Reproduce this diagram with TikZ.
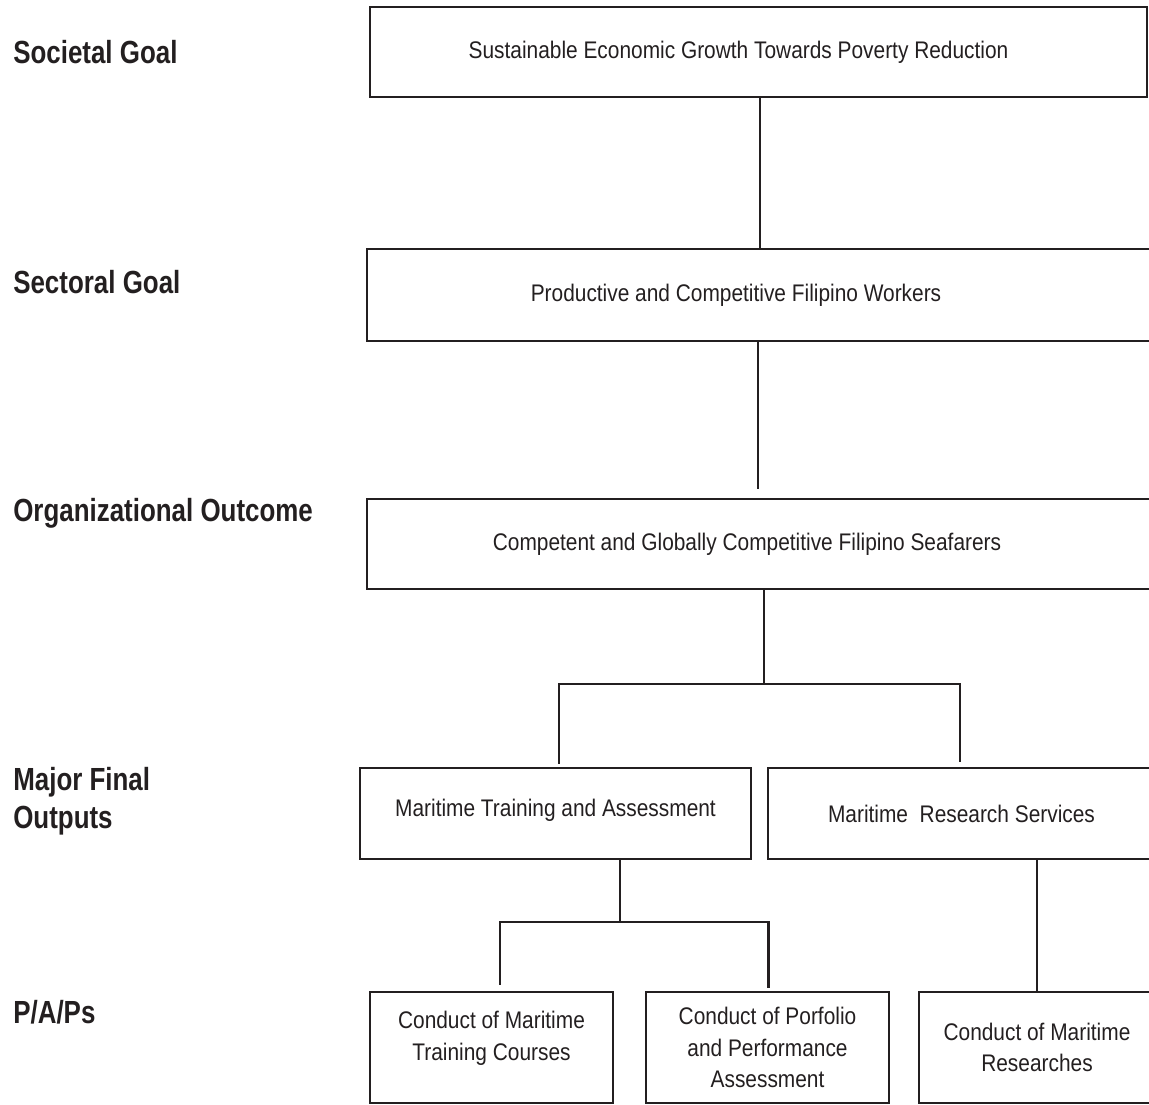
\documentclass[tikz,border=0pt]{standalone}
\usepackage{fontspec}
\setmainfont{Liberation Sans}
\newfontfamily\boxfont[FakeStretch=0.87]{Liberation Sans}
\newfontfamily\levelfont[FakeStretch=0.81]{Liberation Sans Bold}
\usepackage{tikz}
\definecolor{ink}{HTML}{231F20}
\begin{document}
\begin{tikzpicture}[x=1pt,y=-1pt,line width=2.6pt,draw=ink,text=ink]
\tikzstyle{every node}+=[inner sep=0pt]
\tikzstyle{level}=[anchor=west,align=left,font=\levelfont\fontsize{32}{38}\selectfont]
\tikzstyle{box}=[draw=ink,rectangle,align=center,font=\boxfont\fontsize{24}{31.5}\selectfont]
\tikzstyle{link}=[draw=ink,line width=2.4pt]
\useasboundingbox (0,0) rectangle (1149,1104);
\clip (0,0) rectangle (1149,1104);
\node [level] (lsoc) at (12,52) {Societal Goal};
\node [level] (lsec) at (12,282) {Sectoral Goal};
\node [level] (lorg) at (12,513) {Organizational Outcome};
\node [level] (lmfo) at (12,801) {Major Final\\Outputs};
\node [level] (lpap) at (12,1012) {P/A/Ps};
\node [box,minimum width=777pt,minimum height=90pt,label={[box,draw=none,xshift=-20pt]center:Sustainable Economic Growth Towards Poverty Reduction}] (soc) at (758.5,52) {};
\node [box,minimum width=788pt,minimum height=92pt,label={[box,draw=none,xshift=-25pt]center:Productive and Competitive Filipino Workers}] (sec) at (761,295) {};
\node [box,minimum width=788pt,minimum height=90pt,label={[box,draw=none,xshift=-14pt]center:Competent and Globally Competitive Filipino Seafarers}] (org) at (761,544) {};
\node [box,minimum width=391pt,minimum height=91pt,label={[box,draw=none,yshift=3pt]center:Maritime Training and Assessment}] (mfoa) at (555.5,813.5) {};
\node [box,minimum width=387pt,minimum height=91pt] (mfob) at (961.5,813.5) {Maritime \ Research Services};
\node [box,minimum width=243pt,minimum height=111pt,label={[box,draw=none,yshift=9pt]center:Conduct of Maritime\\Training Courses}] (pap1) at (491.5,1047.5) {};
\node [box,minimum width=243pt,minimum height=111pt] (pap2) at (767.5,1047.5) {Conduct of Porfolio\\and Performance\\Assessment};
\node [box,minimum width=236pt,minimum height=111pt] (pap3) at (1037,1047.5) {Conduct of Maritime\\Researches};
\coordinate (ja) at (764,684);
\coordinate (jb) at (620,922);
\draw [link] ([xshift=1.5pt]soc.south) -- ([xshift=1.5pt]soc.south |- sec.north);
\draw [link,shorten >=9pt] ([xshift=-3pt]sec.south) -- ([xshift=-3pt]sec.south |- org.north);
\draw [link] (org.south -| ja) -- (ja);
\draw [link,shorten <=3pt,shorten >=5pt] ([xshift=3.5pt]mfoa.north) |- (ja) -| ([xshift=-1.5pt]mfob.north);
\draw [link] (mfoa.south -| jb) -- (jb);
\draw [link,shorten <=6pt,shorten >=3pt] ([xshift=8.5pt]pap1.north) |- (jb) -| ([xshift=1pt]pap2.north);
\draw [link] (mfob.south -| pap3.north) -- (pap3.north);
\end{tikzpicture}
\end{document}
